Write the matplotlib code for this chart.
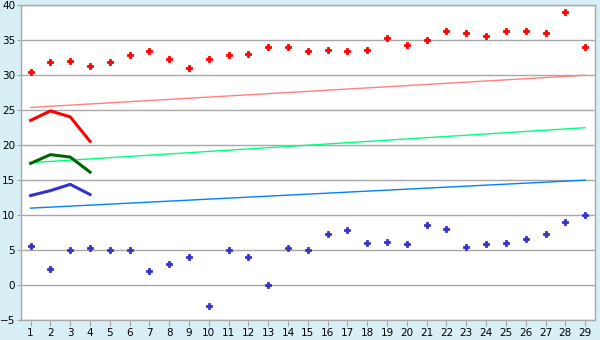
import matplotlib
matplotlib.use("Agg")
import matplotlib.pyplot as plt

days = list(range(1, 30))
high_pts = [30.4, 31.9, 32.0, 31.3, 31.9, 32.9, 33.4, 32.3, 31.1, 32.3,
            32.9, 33.0, 34.0, 34.0, 33.4, 33.6, 33.4, 33.6, 35.4, 34.3,
            35.0, 36.3, 36.0, 35.6, 36.3, 36.3, 36.1, 39.0, 34.1]
low_pts = [5.6, 2.3, 5.0, 5.3, 5.0, 5.0, 2.0, 3.0, 4.0, -3.0,
           5.0, 4.0, 0.0, 5.3, 5.0, 7.3, 7.9, 6.0, 6.1, 5.9,
           8.6, 8.0, 5.4, 5.9, 6.0, 6.6, 7.3, 9.0, 10.0]

short_x = [1, 2, 3, 4]
red_short = [23.55, 24.9, 24.05, 20.55]
green_short = [17.4, 18.65, 18.3, 16.15]
blue_short = [12.8, 13.5, 14.4, 12.95]

trend_x = [1, 29]
red_trend = [25.4, 30.0]
green_trend = [17.5, 22.5]
blue_trend = [11.0, 15.0]

BG = "#d9eff6"
GRID = "#a8a8a8"

fig = plt.figure(figsize=(6.0, 3.4), dpi=100, facecolor=BG)
ax = fig.add_axes([0.0345, 0.0588, 0.9572, 0.9255])
ax.set_facecolor("white")

for y in range(-5, 41, 5):
    ax.axhline(y, color=GRID, linewidth=1.0, zorder=1)

ax.plot(trend_x, red_trend, color="#ff8080", linewidth=1.0, zorder=2)
ax.plot(trend_x, green_trend, color="#00ff80", linewidth=1.0, zorder=2)
ax.plot(trend_x, blue_trend, color="#0080ff", linewidth=1.0, zorder=2)

ax.plot(short_x, red_short, color="#ff0000", linewidth=2.2, zorder=3)
ax.plot(short_x, green_short, color="#006600", linewidth=2.2, zorder=3)
ax.plot(short_x, blue_short, color="#3333cc", linewidth=2.2, zorder=3)

ax.plot(days, high_pts, linestyle="none", marker="P", markersize=5,
        color="#ff0000", markeredgewidth=0.6, zorder=4)
ax.plot(days, low_pts, linestyle="none", marker="P", markersize=5,
        color="#3333cc", markeredgewidth=0.6, zorder=4)

ax.set_xlim(0.5, 29.5)
ax.set_ylim(-5, 40)
ax.set_xticks(days)
ax.set_yticks(range(-5, 41, 5))
for s in ax.spines.values():
    s.set_color(GRID)
    s.set_linewidth(1.0)
ax.tick_params(axis="both", direction="out", color=GRID,
               labelsize=7.5, labelcolor="#000000")
ax.tick_params(axis="y", length=3, pad=1)
ax.tick_params(axis="x", length=4, pad=2)

fig.savefig("out.png", dpi=100, facecolor=BG)
